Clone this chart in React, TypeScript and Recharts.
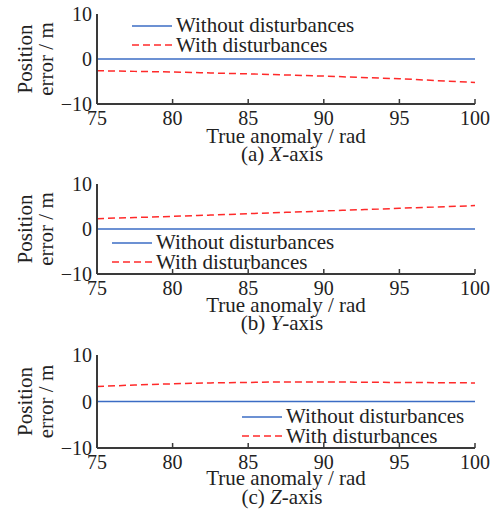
import React from 'react';
import { LineChart, Line, XAxis, YAxis, Legend, Label } from 'recharts';

const anomaly = [75, 77.5, 80, 82.5, 85, 87.5, 90, 92.5, 95, 97.5, 100];
const withoutX = [0, 0, 0, 0, 0, 0, 0, 0, 0, 0, 0];
const withX = [-2.6, -2.75, -2.9, -3.1, -3.3, -3.55, -3.8, -4.1, -4.4, -4.8, -5.2];
const withoutY = [0, 0, 0, 0, 0, 0, 0, 0, 0, 0, 0];
const withY = [2.3, 2.55, 2.8, 3.1, 3.4, 3.7, 4.0, 4.3, 4.6, 4.9, 5.2];
const withoutZ = [0, 0, 0, 0, 0, 0, 0, 0, 0, 0, 0];
const withZ = [3.2, 3.55, 3.8, 4.0, 4.1, 4.2, 4.2, 4.15, 4.1, 4.05, 4.0];

const xTicks = [75, 80, 85, 90, 95, 100];
const yTicks = [-10, 0, 10];
const seriesNames = ['Without disturbances', 'With disturbances'];

const FONT = '"Liberation Serif", "DejaVu Serif", serif';
const FRAME = '#3a3a3a';
const BLUE = '#3b6cc4';
const RED = '#ff2a2a';

const XTick = (props: any) => {
  const { x, y, payload } = props;
  return (
    <g>
      <line x1={x} y1={y} x2={x} y2={y - 5} stroke={FRAME} strokeWidth={1.5} />
      <text x={x} y={y + 14} textAnchor="middle" dominantBaseline="central" fontFamily={FONT} fontSize={20} fill="#222">
        {payload.value}
      </text>
    </g>
  );
};

const YTick = (props: any) => {
  const { x, y, payload } = props;
  const v = payload.value < 0 ? '\u2212' + Math.abs(payload.value) : String(payload.value);
  return (
    <text x={x - 5} y={y} textAnchor="end" dominantBaseline="central" fontFamily={FONT} fontSize={20} fill="#222">
      {v}
    </text>
  );
};

const LegendBox = (props: any) => {
  const items = seriesNames
    .map((n) => (props.payload || []).find((p: any) => p.value === n))
    .filter(Boolean);
  return (
    <div style={{ fontFamily: FONT, fontSize: 21, color: '#222', lineHeight: '19.5px' }}>
      {items.map((p: any, i: number) => (
        <div key={i} style={{ display: 'flex', alignItems: 'center', whiteSpace: 'nowrap' }}>
          <svg width={42} height={8} style={{ marginRight: 2 }}>
            <line x1={0} y1={4} x2={40} y2={4} stroke={p.color} strokeWidth={1.5} strokeDasharray={i === 1 ? '7 4' : undefined} />
          </svg>
          <span>{p.value}</span>
        </div>
      ))}
    </div>
  );
};

interface PanelProps {
  top: number;
  plotTop: number;
  plotH: number;
  without: number[];
  withD: number[];
  legendLeft: number;
  legendTop: number;
  tag: string;
  axisName: string;
  titleDy: number;
  captionDy: number;
}

const Panel = ({ top, plotTop, plotH, without, withD, legendLeft, legendTop, tag, axisName, titleDy, captionDy }: PanelProps) => {
  const data = anomaly.map((a, i) => ({ a, without: without[i], withD: withD[i] }));
  const axisH = 62;
  const height = plotTop + plotH + axisH;
  return (
    <div style={{ position: 'absolute', left: 0, top }}>
      <LineChart width={495} height={height} data={data} margin={{ top: plotTop, right: 20, left: 0, bottom: 0 }}>
        <XAxis
          dataKey="a"
          type="number"
          domain={[75, 100]}
          ticks={xTicks}
          tickSize={0}
          tickMargin={0}
          tick={<XTick />}
          tickLine={false}
          height={axisH}
          axisLine={{ stroke: FRAME, strokeWidth: 2 }}
        >
          <Label
            content={(p: any) => {
              const vb = p.viewBox;
              const cx = vb.x + vb.width / 2;
              return (
                <g fontFamily={FONT} fontSize={21} fill="#222">
                  <text x={cx} y={vb.y + titleDy} textAnchor="middle" dominantBaseline="central">True anomaly / rad</text>
                  <text x={cx - 4} y={vb.y + captionDy} textAnchor="middle" dominantBaseline="central">
                    ({tag}) <tspan fontStyle="italic">{axisName}</tspan>-axis
                  </text>
                </g>
              );
            }}
          />
        </XAxis>
        <XAxis xAxisId="top" orientation="top" dataKey="a" type="number" domain={[75, 100]} tick={false} tickLine={false} height={0} axisLine={{ stroke: FRAME, strokeWidth: 2 }} />
        <YAxis
          domain={[-10, 10]}
          ticks={yTicks}
          width={97}
          tickSize={0}
          tickMargin={0}
          tick={<YTick />}
          tickLine={false}
          axisLine={{ stroke: FRAME, strokeWidth: 2 }}
        >
          <Label
            content={(p: any) => {
              const vb = p.viewBox;
              const cy = vb.y + vb.height / 2;
              return (
                <g fontFamily={FONT} fontSize={21} fill="#222">
                  <text x={25} y={cy} transform={`rotate(-90 25 ${cy})`} textAnchor="middle" dominantBaseline="central">Position</text>
                  <text x={46} y={cy} transform={`rotate(-90 46 ${cy})`} textAnchor="middle" dominantBaseline="central">error / m</text>
                </g>
              );
            }}
          />
        </YAxis>
        <YAxis yAxisId="right" orientation="right" domain={[-10, 10]} tick={false} tickLine={false} width={0} axisLine={{ stroke: FRAME, strokeWidth: 2 }} />
        <Legend
          layout="vertical"
          align="center"
          verticalAlign="middle"
          content={<LegendBox />}
          wrapperStyle={{ position: 'absolute', left: legendLeft, top: legendTop, width: 'auto' }}
        />
        <Line dataKey="without" name={seriesNames[0]} stroke={BLUE} strokeWidth={1.5} dot={false} isAnimationActive={false} type="monotone" />
        <Line dataKey="withD" name={seriesNames[1]} stroke={RED} strokeWidth={1.5} strokeDasharray="7 4" dot={false} isAnimationActive={false} type="monotone" />
      </LineChart>
    </div>
  );
};

export default function App() {
  return (
    <div style={{ position: 'absolute', left: 0, top: 0, width: 495, height: 517, background: '#fff' }}>
      <Panel top={0} plotTop={14} plotH={90} without={withoutX} withD={withX} legendLeft={132} legendTop={16} tag="a" axisName="X" titleDy={32} captionDy={50} />
      <Panel top={170} plotTop={14} plotH={90} without={withoutY} withD={withY} legendLeft={112} legendTop={63} tag="b" axisName="Y" titleDy={31} captionDy={49} />
      <Panel top={340} plotTop={15} plotH={93} without={withoutZ} withD={withZ} legendLeft={242} legendTop={67} tag="c" axisName="Z" titleDy={30} captionDy={49} />
    </div>
  );
}
